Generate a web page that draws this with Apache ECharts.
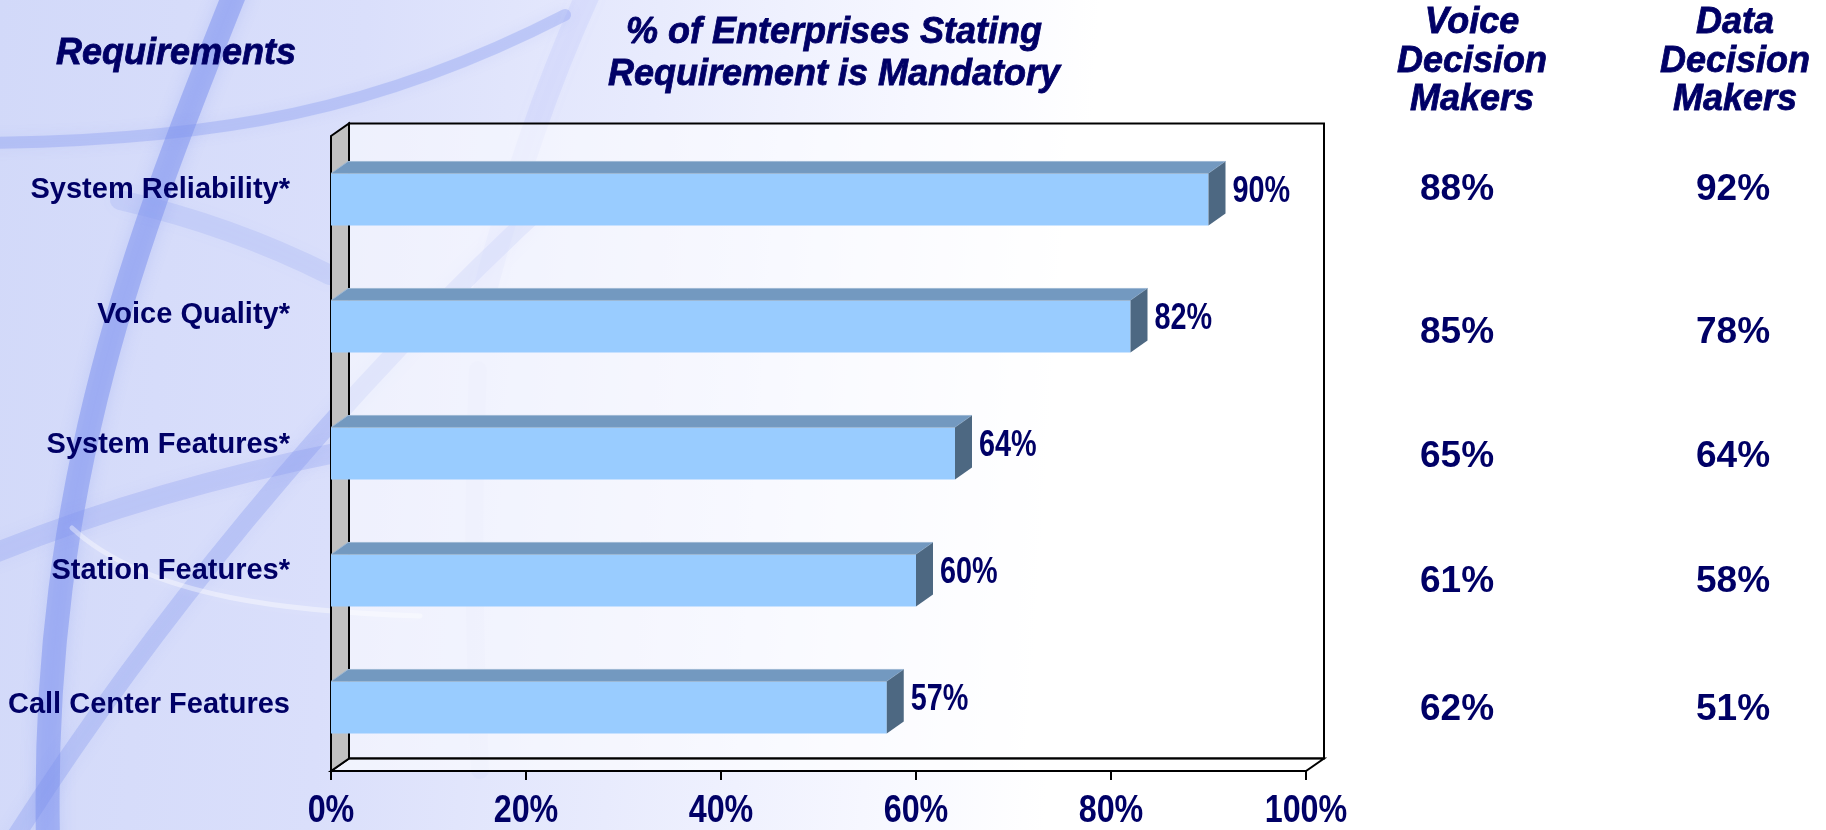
<!DOCTYPE html>
<html>
<head>
<meta charset="utf-8">
<script src="https://cdn.jsdelivr.net/npm/echarts@6/dist/echarts.min.js"></script>
<style>
  html, body { margin: 0; padding: 0; background: #ffffff; }
  #chart { width: 1826px; height: 830px; }
</style>
</head>
<body>
<div id="chart"></div>
<script>
// ---- data ----
const categories = ['System Reliability*', 'Voice Quality*', 'System Features*', 'Station Features*', 'Call Center Features'];
const overallPct = [90, 82, 64, 60, 57];
const voicePct = [88, 85, 65, 61, 62];
const dataPct = [92, 78, 64, 58, 51];
const xTickValues = [0, 20, 40, 60, 80, 100];
const rowHeading = 'Requirements';
const chartTitle = ['% of Enterprises Stating', 'Requirement is Mandatory'];
const columnHeadings = [['Voice', 'Decision', 'Makers'], ['Data', 'Decision', 'Makers']];

// ---- styling ----
const NAVY = '#000066';
const SANS = "'Liberation Sans', Arial, sans-serif";
const NARROW_SCALE = 0.8;              // condensed look for the numeric labels
const NUM_SIZE = 36;
const TICK_SIZE = 38;
const TICK_SCALE = 0.85;
const WALL = { dx: 18, dy: 12.5 };
const BAR = { dx: 17, dy: 12, ratio: 0.41 };
const labelLift = [9.5, 11.5, 8.5, 9.5, 2.5]; // category labels sit a little above their bars
const rowNudge = [-10, 6, 3, 1.5, 2];         // vertical nudge of the side-table figures

const chart = echarts.init(document.getElementById('chart'));

// 3D box: back wall, floor and grey side wall
function renderFrame(params) {
  const cs = params.coordSys;
  const x0 = cs.x, x1 = cs.x + cs.width, y0 = cs.y, y1 = cs.y + cs.height;
  const dx = WALL.dx, dy = WALL.dy;
  const edge = { stroke: '#000000', lineWidth: 2, lineJoin: 'miter' };
  return {
    type: 'group',
    children: [
      { type: 'polygon', shape: { points: [[x0 + dx, y0 - dy], [x1 + dx, y0 - dy], [x1 + dx, y1 - dy], [x0 + dx, y1 - dy]] },
        style: Object.assign({ fill: 'rgba(255,255,255,0.55)' }, edge) },
      { type: 'polygon', shape: { points: [[x0, y1], [x0 + dx, y1 - dy], [x1 + dx, y1 - dy], [x1, y1]] },
        style: Object.assign({ fill: 'rgba(255,255,255,0.6)' }, edge) },
      { type: 'polygon', shape: { points: [[x0, y0], [x0 + dx, y0 - dy], [x0 + dx, y1 - dy], [x0, y1]] },
        style: Object.assign({ fill: '#c0c0c0' }, edge) }
    ]
  };
}

// extruded horizontal bar with its value label
function renderBar(params, api) {
  const v = api.value(0), idx = api.value(1);
  const s = api.coord([0, idx]);
  const e = api.coord([v, idx]);
  const h = api.size([0, 1])[1] * BAR.ratio;
  const x0 = s[0], x1 = e[0], yt = e[1] - h / 2, yb = e[1] + h / 2;
  const dx = BAR.dx, dy = BAR.dy;
  return {
    type: 'group',
    children: [
      { type: 'rect', shape: { x: x0, y: yt, width: x1 - x0, height: h }, style: { fill: '#99ccff' } },
      { type: 'polygon', shape: { points: [[x0, yt], [x0 + dx, yt - dy], [x1 + dx, yt - dy], [x1, yt]] },
        style: { fill: '#7399c0', stroke: '#9db8d4', lineWidth: 1 } },
      { type: 'polygon', shape: { points: [[x1, yt], [x1 + dx, yt - dy], [x1 + dx, yb - dy], [x1, yb]] },
        style: { fill: '#4d6882' } },
      { type: 'text', x: x1 + dx + 7, y: e[1] - 7, scaleX: NARROW_SCALE,
        style: { text: v + '%', fontFamily: SANS, fontWeight: 'bold', fontSize: NUM_SIZE, fill: NAVY,
                 align: 'left', verticalAlign: 'middle' } }
    ]
  };
}

// percentage labels under the value-axis ticks
function renderTickLabel(params, api) {
  const cs = params.coordSys;
  const v = api.value(0);
  const p = api.coord([v, 0]);
  return {
    type: 'text', x: p[0], y: cs.y + cs.height + 41, scaleX: TICK_SCALE,
    style: { text: v + '%', fontFamily: SANS, fontWeight: 'bold', fontSize: TICK_SIZE, fill: NAVY,
             align: 'center', verticalAlign: 'middle' }
  };
}

function columnSeries(col, values) {
  return {
    type: 'scatter',
    xAxisIndex: 1,
    yAxisIndex: 1,
    symbolSize: 1,
    itemStyle: { color: 'rgba(0,0,0,0)', opacity: 1 },
    silent: true,
    data: values.map((v, i) => ({ value: [col, i, v], label: { offset: [0, rowNudge[i]] } })),
    label: {
      show: true, position: 'inside',
      formatter: p => p.value[2] + '%',
      fontFamily: SANS, fontWeight: 'bold', fontSize: 37, color: NAVY
    }
  };
}

// soft background swirls (cubic when both control points given)
function swirl(p, color, width, blur) {
  const shape = { x1: p[0], y1: p[1], cpx1: p[2], cpy1: p[3] };
  if (p.length === 8) {
    shape.cpx2 = p[4]; shape.cpy2 = p[5]; shape.x2 = p[6]; shape.y2 = p[7];
  } else {
    shape.x2 = p[4]; shape.y2 = p[5];
  }
  return {
    type: 'bezierCurve', z: -90, silent: true, shape: shape,
    style: { stroke: color, lineWidth: width, lineCap: 'round', shadowBlur: blur, shadowColor: color }
  };
}

const headerFont = { fontFamily: SANS, fontWeight: 'bold', fontStyle: 'italic', fontSize: 36, fill: NAVY,
                     stroke: NAVY, lineWidth: 0.8 };

const categoryRich = {};
labelLift.forEach((lift, i) => {
  categoryRich['r' + i] = { fontFamily: SANS, fontWeight: 'bold', fontSize: 29, color: NAVY, lineHeight: lift * 2 };
});

const option = {
  animation: false,
  grid: [
    { left: 331, top: 136, width: 975, height: 635 },
    { left: 1457, top: 136, width: 276, height: 635 }
  ],
  xAxis: [
    {
      type: 'value', gridIndex: 0, min: xTickValues[0], max: xTickValues[xTickValues.length - 1],
      interval: xTickValues[1] - xTickValues[0],
      axisLine: { show: true, lineStyle: { color: '#000000', width: 2 } },
      axisTick: { show: true, length: 9, lineStyle: { color: '#000000', width: 2 } },
      splitLine: { show: false },
      axisLabel: { show: false }
    },
    { type: 'value', gridIndex: 1, min: 0, max: 1, show: false }
  ],
  yAxis: [
    {
      type: 'category', gridIndex: 0, data: categories, inverse: true,
      axisLine: { show: false }, axisTick: { show: false },
      axisLabel: { margin: 41, verticalAlign: 'bottom',
                   formatter: (v, i) => '{r' + i + '|' + v + '}', rich: categoryRich }
    },
    { type: 'category', gridIndex: 1, data: categories, inverse: true, show: false }
  ],
  graphic: [
    { type: 'rect', z: -100, silent: true, shape: { x: 0, y: 0, width: 1826, height: 830 },
      style: { fill: new echarts.graphic.LinearGradient(0, 0, 1, 0.15, [
        { offset: 0, color: '#d2d9f9' },
        { offset: 0.2, color: '#dadffb' },
        { offset: 0.36, color: '#e8ebfd' },
        { offset: 0.5, color: '#f6f7ff' },
        { offset: 0.6, color: '#ffffff' },
        { offset: 1, color: '#ffffff' }
      ]) } },
    swirl([236, -10, 140, 230, 40, 480, 48, 840], 'rgba(112,135,238,0.45)', 24, 16),
    swirl([-10, 143, 220, 140, 380, 110, 565, 15], 'rgba(125,145,240,0.32)', 12, 14),
    swirl([120, 200, 230, 225, 330, 275], 'rgba(130,150,240,0.18)', 20, 16),
    swirl([10, 845, 140, 640, 330, 400, 560, 190], 'rgba(120,140,238,0.28)', 18, 16),
    swirl([-10, 555, 150, 490, 340, 452], 'rgba(125,145,240,0.25)', 20, 16),
    swirl([590, -10, 530, 120, 485, 290], 'rgba(150,165,245,0.14)', 24, 18),
    swirl([478, 370, 470, 560, 480, 770], 'rgba(150,165,245,0.06)', 18, 16),
    swirl([72, 528, 150, 600, 300, 612, 420, 616], 'rgba(255,255,255,0.4)', 5, 12),
    { type: 'text', x: 176, y: 53.6, style: Object.assign({ text: rowHeading, align: 'center', verticalAlign: 'middle' }, headerFont) },
    { type: 'text', x: 834, y: 54.5, style: Object.assign({ text: chartTitle.join('\n'), align: 'center', verticalAlign: 'middle', lineHeight: 42 }, headerFont) },
    { type: 'text', x: 1472, y: 62, style: Object.assign({ text: columnHeadings[0].join('\n'), align: 'center', verticalAlign: 'middle', lineHeight: 38.5 }, headerFont) },
    { type: 'text', x: 1735, y: 62, style: Object.assign({ text: columnHeadings[1].join('\n'), align: 'center', verticalAlign: 'middle', lineHeight: 38.5 }, headerFont) }
  ],
  series: [
    { type: 'custom', name: 'frame', xAxisIndex: 0, yAxisIndex: 0, z: 1, silent: true,
      renderItem: renderFrame, data: [[0, 0]] },
    { type: 'custom', name: 'Mandatory', xAxisIndex: 0, yAxisIndex: 0, z: 3,
      renderItem: renderBar, encode: { x: 0, y: 1 },
      data: overallPct.map((v, i) => [v, i]) },
    { type: 'custom', name: 'tick labels', xAxisIndex: 0, yAxisIndex: 0, z: 3, silent: true, clip: false,
      renderItem: renderTickLabel, data: xTickValues.map(v => [v]) },
    columnSeries(0, voicePct),
    columnSeries(1, dataPct)
  ]
};

chart.setOption(option);
</script>
</body>
</html>
